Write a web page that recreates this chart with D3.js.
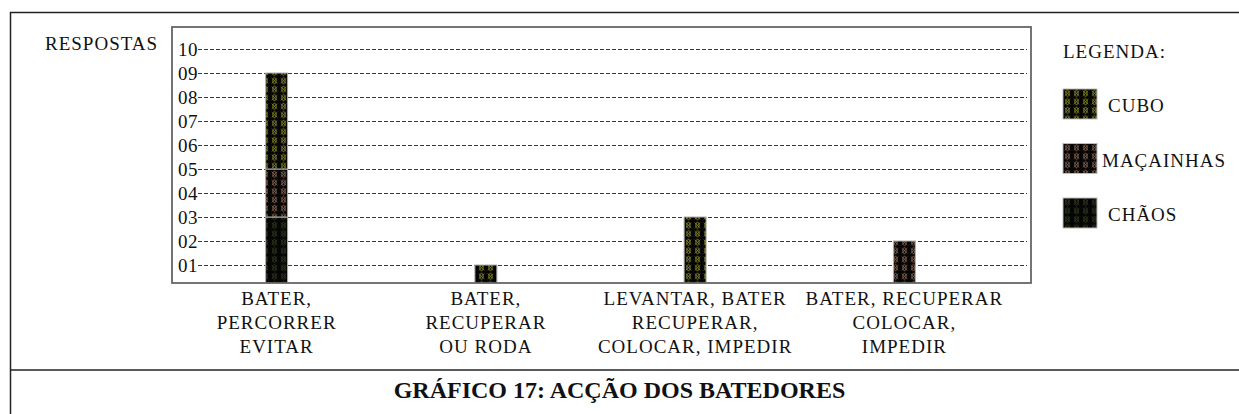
<!DOCTYPE html>
<html>
<head>
<meta charset="utf-8">
<script src="https://cdn.jsdelivr.net/npm/d3@7"></script>
<style>
  body { margin: 0; background: #fff; }
  text { font-family: "Liberation Serif", "Times New Roman", serif; fill: #111; }
</style>
</head>
<body>
<div id="visual"></div>
<script>
// data
var categories = [
  ["BATER,", "PERCORRER", "EVITAR"],
  ["BATER,", "RECUPERAR", "OU RODA"],
  ["LEVANTAR, BATER", "RECUPERAR,", "COLOCAR, IMPEDIR"],
  ["BATER, RECUPERAR", "COLOCAR,", "IMPEDIR"]
];
var cubo      = [4, 1, 3, 0];
var macainhas = [2, 0, 0, 2];
var chaos     = [3, 0, 0, 0];
var yTicks = [1, 2, 3, 4, 5, 6, 7, 8, 9, 10];
var seriesNames = ["CUBO", "MAÇAINHAS", "CHÃOS"];

var w = 1239, h = 414;
var box = { left: 172, top: 27, right: 1031, bottom: 283 };
var barWidth = 22;
var patColors = { cubo: "#b8b834", macainhas: "#b98a6e", chaos: "#3e4c26" };

var svg = d3.select("#visual").append("svg")
  .attr("width", w)
  .attr("height", h);

// patterns (black with crossed loops)
var defs = svg.append("defs");
Object.keys(patColors).forEach(function(k){
  var p = defs.append("pattern")
    .attr("id", "pat-" + k)
    .attr("patternUnits", "userSpaceOnUse")
    .attr("width", 9).attr("height", 8.5);
  p.append("rect").attr("width", 9).attr("height", 8.5).attr("fill", "#050505");
  var g = p.append("g").attr("stroke", patColors[k]).attr("stroke-width", 0.6).attr("fill", "none");
  g.append("path").attr("d", "M4.5,0.8 Q8.2,4.25 4.5,7.7 Q0.8,4.25 4.5,0.8 Z");
  g.append("path").attr("d", "M1.8,1.6 L7.2,6.9 M7.2,1.6 L1.8,6.9");
});
defs.append("clipPath").attr("id", "plotclip")
  .append("rect")
  .attr("x", box.left).attr("y", box.top)
  .attr("width", box.right - box.left).attr("height", box.bottom - box.top);

// outer frame + title separator
svg.append("rect")
  .attr("x", 10.5).attr("y", 12.5)
  .attr("width", 1300).attr("height", 500)
  .attr("fill", "none").attr("stroke", "#222").attr("stroke-width", 1.5);
svg.append("line")
  .attr("x1", 10).attr("x2", w).attr("y1", 370).attr("y2", 370)
  .attr("stroke", "#222").attr("stroke-width", 1.5);

var x = d3.scalePoint()
  .domain(d3.range(categories.length))
  .range([box.left, box.right - 22])
  .padding(0.5);

var y = d3.scaleLinear().domain([0, 10]).range([289, 49]);

// grid + tick labels
var axis = svg.append("g")
  .attr("transform", "translate(198,0)")
  .call(d3.axisLeft(y)
    .tickValues(yTicks)
    .tickFormat(d3.format("02d"))
    .tickSize(-(1027 - 198))
    .tickPadding(0));
axis.select(".domain").remove();
axis.selectAll("line")
  .attr("stroke", "#3a3a3a")
  .attr("stroke-dasharray", "4,2");
axis.selectAll("text")
  .attr("x", 0)
  .style("font-family", "'Liberation Serif', serif")
  .style("font-size", "19px")
  .style("letter-spacing", "0.5px")
  .attr("fill", "#111");

// stacked bars
var table = categories.map(function(c, i){
  return { i: i, chaos: chaos[i], macainhas: macainhas[i], cubo: cubo[i] };
});
var stack = d3.stack().keys(["chaos", "macainhas", "cubo"])(table);

var bars = svg.append("g").attr("clip-path", "url(#plotclip)");
stack.forEach(function(layer){
  bars.selectAll(".seg-" + layer.key)
    .data(layer.filter(function(d){ return d[1] > d[0]; }))
    .enter().append("rect")
      .attr("x", function(d){ return x(d.data.i) - barWidth / 2; })
      .attr("y", function(d){ return y(d[1]); })
      .attr("width", barWidth)
      .attr("height", function(d){ return y(d[0]) - y(d[1]); })
      .attr("fill", "url(#pat-" + layer.key + ")")
      .attr("stroke", "#b0b0b0")
      .attr("stroke-width", 1);
});

// plot box
svg.append("rect")
  .attr("x", box.left).attr("y", box.top)
  .attr("width", box.right - box.left).attr("height", box.bottom - box.top)
  .attr("fill", "none").attr("stroke", "#666").attr("stroke-width", 1.8);

svg.append("text")
  .attr("x", 45).attr("y", 50)
  .style("font-size", "19px").style("letter-spacing", "1px")
  .text("RESPOSTAS");

// category labels
var labels = svg.selectAll(".cat")
  .data(categories)
  .enter().append("text")
    .attr("class", "cat")
    .attr("text-anchor", "middle")
    .style("font-size", "19px").style("letter-spacing", "1px");
labels.selectAll("tspan")
  .data(function(d, i){ return d.map(function(t){ return { t: t, i: i }; }); })
  .enter().append("tspan")
    .attr("x", function(d){ return x(d.i); })
    .attr("y", function(d, j){ return 305 + j * 24; })
    .text(function(d){ return d.t; });

// legend
svg.append("text")
  .attr("x", 1063).attr("y", 58)
  .style("font-size", "19px").style("letter-spacing", "1px")
  .text("LEGENDA:");
var legKeys = ["cubo", "macainhas", "chaos"];
var leg = svg.selectAll(".leg")
  .data(seriesNames)
  .enter().append("g")
    .attr("class", "leg")
    .attr("transform", function(d, i){ return "translate(1063," + (89 + i * 54.5) + ")"; });
leg.append("rect")
  .attr("width", 34).attr("height", 30)
  .attr("fill", function(d, i){ return "url(#pat-" + legKeys[i] + ")"; })
  .attr("stroke", "#bbb").attr("stroke-width", 1);
leg.append("text")
  .attr("x", function(d){ return d.length > 6 ? 39 : 45; })
  .attr("y", 23)
  .style("font-size", "19px").style("letter-spacing", "1px")
  .text(function(d){ return d; });

// title
svg.append("text")
  .attr("x", w / 2).attr("y", 398)
  .attr("text-anchor", "middle")
  .style("font-size", "24px").style("font-weight", "bold")
  .text("GRÁFICO 17: ACÇÃO DOS BATEDORES");
</script>
</body>
</html>
